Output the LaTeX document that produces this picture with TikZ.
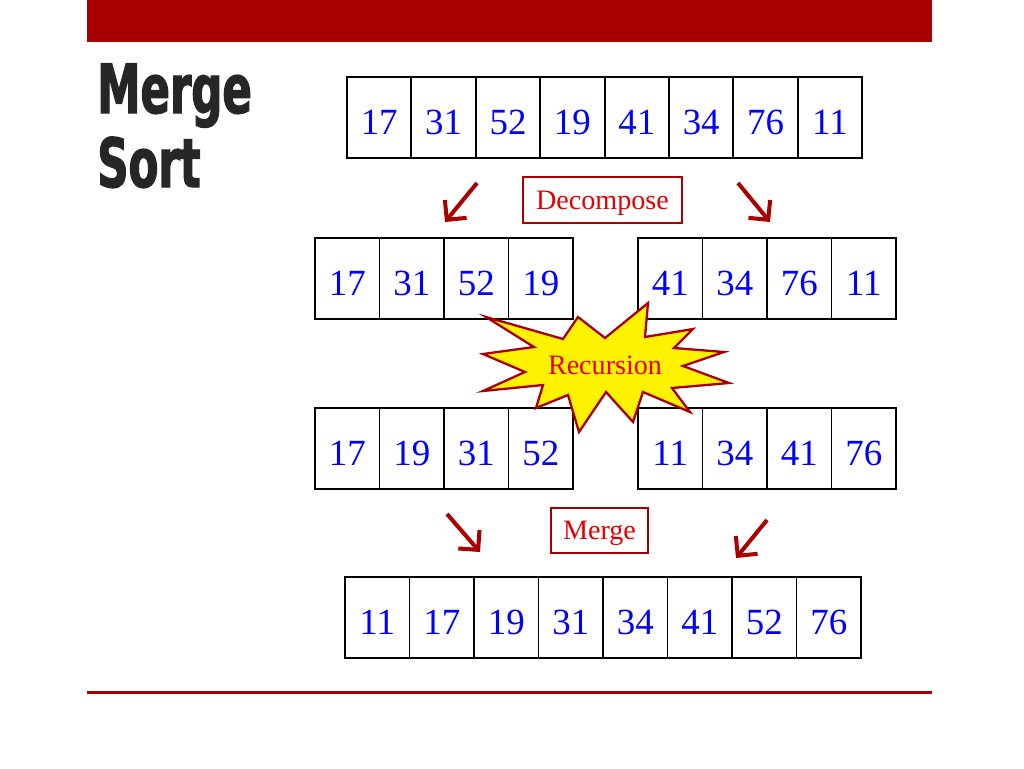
\documentclass[tikz,border=0pt]{standalone}
\usepackage{fontspec}
\setmainfont{Liberation Serif}
\newfontfamily\titlefont{DejaVu Sans}[FakeStretch=0.64,FakeBold=1.8]
\usetikzlibrary{arrows.meta}
\def\burst{(486,317) -- (563,339) -- (578,317) -- (605,338) -- (648,303) -- (645,337)
  -- (693,329) -- (674,348) -- (724,352) -- (683,366) -- (729,383) -- (672,388)
  -- (690,412) -- (643,392) -- (633,422) -- (606,392) -- (579,432) -- (568,395)
  -- (536,408) -- (543,385) -- (483,391) -- (525,372) -- (483,354) -- (534,347) -- cycle}
\colorlet{slide red}{red!66!black}
\colorlet{label red}{red!90!black}
\colorlet{number blue}{blue}
\tikzset{cell/.style={draw=black, line width=1pt, minimum width=1.29cm, minimum height=1.62cm,
    inner sep=0pt, text height=19pt, text depth=0pt, text=number blue, font=\fontsize{21}{25}\selectfont},
  tag/.style={draw=slide red, line width=1pt, text=label red, inner sep=0pt, text depth=0pt,
    font=\fontsize{16}{19}\selectfont},
  step arrow/.style={draw=slide red, line width=2.3pt,
    -{Straight Barb[length=8pt,width=16pt]}},
  heading/.style={anchor=base west, inner sep=0pt, text=black!85,
    font=\titlefont\bfseries\fontsize{38.6}{46}\selectfont}}

\begin{document}
\begin{tikzpicture}[x=0.02cm, y=-0.02cm]
		\useasboundingbox (0,0) rectangle (1024,768);
		\fill[slide red] (87,0) rectangle (932,42);
		\draw[slide red, line width=1.7pt] (87,692) -- (932,692);
		
		\node[heading] (merge) at (97,113) {Merge};
		\node[heading] (sort) at (97,187) {Sort};
		
		% unsorted list
		\foreach \v [count=\i] in {17,31,52,19,41,34,76,11}
		\node[cell] (a\i) at (347+64.4*\i-32.2,117.5) {\v};
		
		% halves
		\foreach \v [count=\i] in {17,31,52,19}
		\node[cell] (l\i) at (315+64.5*\i-32.25,278.5) {\v};
		\foreach \v [count=\i] in {41,34,76,11}
		\node[cell] (r\i) at (638+64.5*\i-32.25,278.5) {\v};
		
		% sorted halves
		\foreach \v [count=\i] in {17,19,31,52}
		\node[cell] (sl\i) at (315+64.5*\i-32.25,448.5) {\v};
		\foreach \v [count=\i] in {11,34,41,76}
		\node[cell] (sr\i) at (638+64.5*\i-32.25,448.5) {\v};
		
		% merged list
		\foreach \v [count=\i] in {11,17,19,31,34,41,52,76}
		\node[cell] (m\i) at (345+64.5*\i-32.25,617.5) {\v};
		
		\node[tag, minimum width=3.18cm, minimum height=0.92cm] (decompose) at (602.5,200) {Decompose};
		\node[tag, minimum width=1.94cm, minimum height=0.9cm] (mergetag) at (599.5,530.5) {Merge};
		
		\draw[fill=yellow, draw=slide red, line width=1.3pt, line join=miter] \burst;
		\node[text=label red, text depth=0pt, font=\fontsize{16}{19}\selectfont] (recursion) at (605,365) {Recursion};
		
		\coordinate (d1) at (477,183); \coordinate (d1e) at (445,222);
		\coordinate (d2) at (738,183); \coordinate (d2e) at (770,222);
		\coordinate (c1) at (447,514); \coordinate (c1e) at (480,552);
		\coordinate (c2) at (767,520); \coordinate (c2e) at (736,558);
		\draw[step arrow] (d1) -- (d1e);
		\draw[step arrow] (d2) -- (d2e);
		\draw[step arrow] (c1) -- (c1e);
		\draw[step arrow] (c2) -- (c2e);
		
		\end{tikzpicture}
\end{document}
